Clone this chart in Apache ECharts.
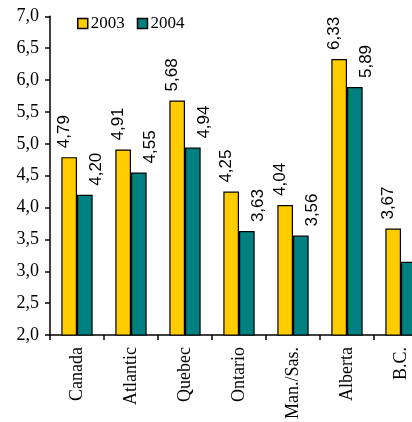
<!DOCTYPE html>
<html>
<head>
<meta charset="utf-8">
<script src="https://cdn.jsdelivr.net/npm/echarts@6/dist/echarts.min.js"></script>
<style>
  html, body { margin: 0; padding: 0; background: #fff; overflow: hidden; }
  #chart { width: 480px; height: 422px; }
</style>
</head>
<body>
<div id="chart"></div>
<script>
// Regions shown along the horizontal axis
const regions = ['Canada', 'Atlantic', 'Quebec', 'Ontario', 'Man./Sas.', 'Alberta', 'B.C.'];
// Values per year (percent)
const values2003 = [4.79, 4.91, 5.68, 4.25, 4.04, 6.33, 3.67];
const values2004 = [4.20, 4.55, 4.94, 3.63, 3.56, 5.89, 3.15];
const seriesNames = ['2003', '2004'];

const serif = 'Liberation Serif';
const sans = 'Liberation Sans';

// Decimal comma formatting
const fmt2 = v => v.toFixed(2).replace('.', ',');
const fmt1 = v => v.toFixed(1).replace('.', ',');

function barSeries(name, data, color, dx) {
  return {
    name: name,
    type: 'bar',
    data: data,
    barGap: '0%',
    barCategoryGap: '42%',
    itemStyle: { color: color, borderColor: '#000', borderWidth: 1.2 },
    label: {
      show: true,
      position: 'top',
      rotate: 90,
      align: 'left',
      verticalAlign: 'middle',
      distance: 9,
      // rotated label: second component moves it sideways on screen
      offset: [0, dx],
      fontFamily: sans,
      fontSize: 17,
      color: '#000',
      formatter: p => fmt2(p.value)
    }
  };
}

const chart = echarts.init(document.getElementById('chart'), null, { renderer: 'canvas' });
chart.setOption({
  animation: false,
  backgroundColor: '#fff',
  grid: { left: 50, top: 16.3, width: 378, height: 322 },
  legend: {
    data: seriesNames,
    left: 72,
    top: 10,
    itemWidth: 10,
    itemHeight: 10,
    itemGap: 12,
    icon: 'rect',
    itemStyle: { borderColor: '#000', borderWidth: 1.5 },
    textStyle: { fontFamily: serif, fontSize: 17, color: '#000', padding: [0, 0, 0, -2] }
  },
  xAxis: {
    type: 'category',
    data: regions,
    axisLine: { lineStyle: { color: '#000', width: 1.5 } },
    axisTick: { show: true, length: 5, lineStyle: { color: '#000', width: 1.5 } },
    axisLabel: { rotate: 90, margin: 12, fontFamily: serif, fontSize: 18, color: '#000' }
  },
  yAxis: {
    type: 'value',
    min: 2,
    max: 7,
    interval: 0.5,
    splitLine: { show: false },
    axisLine: { show: true, lineStyle: { color: '#000', width: 1.5 } },
    axisTick: { show: true, length: 5, lineStyle: { color: '#000', width: 1.5 } },
    axisLabel: { margin: 11, fontFamily: serif, fontSize: 18, color: '#000', formatter: fmt1 }
  },
  series: [
    barSeries(seriesNames[0], values2003, '#FFCC00', -5),
    barSeries(seriesNames[1], values2004, '#008080', 11)
  ]
});
</script>
</body>
</html>
